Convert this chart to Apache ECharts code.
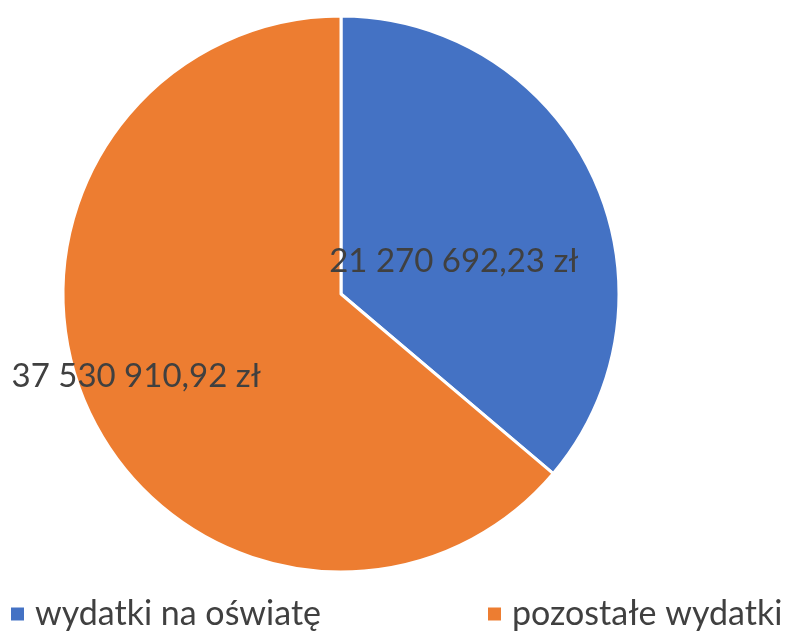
<!DOCTYPE html>
<html>
<head>
<meta charset="utf-8">
<script src="https://cdn.jsdelivr.net/npm/echarts@6/dist/echarts.min.js"></script>
<style>
  html, body { margin: 0; padding: 0; background: #fff; }
  #chart { width: 792px; height: 632px; }
</style>
</head>
<body>
<div id="chart"></div>
<script>
  // dane wykresu
  const categories = ['wydatki na oświatę', 'pozostałe wydatki'];
  const values = [21270692.23, 37530910.92];
  const colors = ['#4472C4', '#ED7D31'];
  // przesunięcia etykiet względem pozycji 'inside'
  const labelOffsets = [[-16, 27], [-76, 23]];
  const legendLefts = [4, 481];

  function formatZl(v) {
    const parts = v.toFixed(2).split('.');
    const intPart = parts[0].replace(/\B(?=(\d{3})+(?!\d))/g, ' ');
    return intPart + ',' + parts[1] + ' zł';
  }

  const chart = echarts.init(document.getElementById('chart'), null, { renderer: 'canvas' });
  const option = {
    animation: false,
    textStyle: { fontFamily: 'Lato' },
    // osobna legenda dla każdej pozycji, żeby ustawić je jak w oryginale
    legend: categories.map((c, i) => ({
      data: [c],
      left: legendLefts[i],
      top: 592,
      icon: 'rect',
      itemWidth: 15,
      itemHeight: 15,
      textStyle: {
        fontSize: 34,
        color: '#404040',
        fontFamily: 'Lato',
        padding: [0, 0, 0, 5]
      }
    })),
    series: [{
      type: 'pie',
      center: [341, 294],
      radius: 278,
      startAngle: 90,
      clockwise: true,
      itemStyle: { borderColor: '#fff', borderWidth: 3 },
      label: {
        show: true,
        position: 'inside',
        fontSize: 33,
        color: '#404040',
        fontFamily: 'Lato',
        formatter: p => formatZl(p.value)
      },
      labelLine: { show: false },
      emphasis: { disabled: true },
      data: categories.map((c, i) => ({
        name: c,
        value: values[i],
        itemStyle: { color: colors[i] },
        label: { offset: labelOffsets[i] }
      }))
    }]
  };
  chart.setOption(option);
</script>
</body>
</html>
